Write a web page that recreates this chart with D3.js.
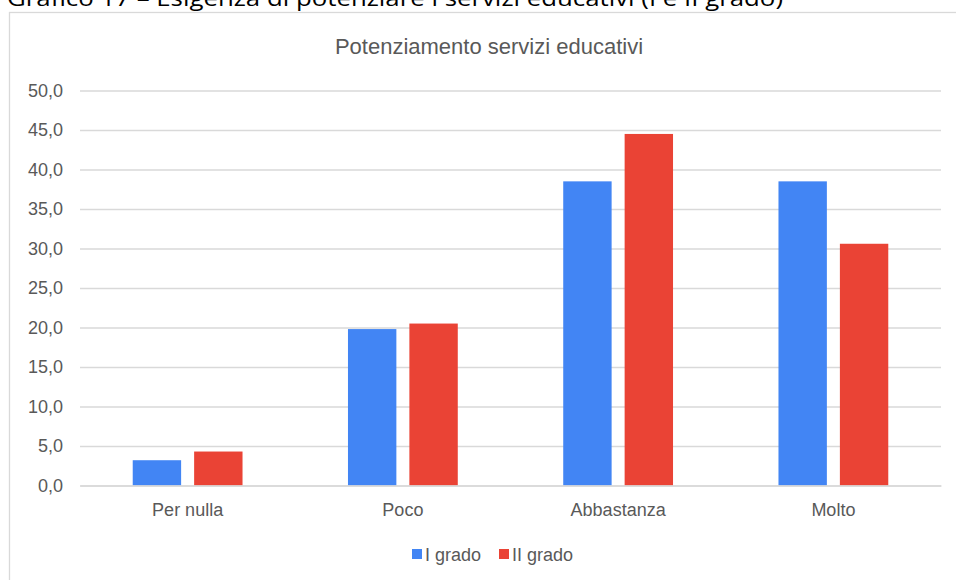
<!DOCTYPE html>
<html>
<head>
<meta charset="utf-8">
<script src="https://cdn.jsdelivr.net/npm/d3@7"></script>
<style>
  html, body { margin: 0; padding: 0; background: #fff; }
  svg { display: block; }
</style>
</head>
<body>
<svg id="chart" width="956" height="580"></svg>
<script>
const categories = ["Per nulla", "Poco", "Abbastanza", "Molto"];
const seriesNames = ["I grado", "II grado"];
const iGrado = [3.2, 19.8, 38.5, 38.5];
const iiGrado = [4.3, 20.5, 44.5, 30.6];
const yTicks = [0, 5, 10, 15, 20, 25, 30, 35, 40, 45, 50];
const colors = ["#4285f4", "#ea4335"];
const chartTitle = "Potenziamento servizi educativi";
const caption = "Grafico 17 – Esigenza di potenziare i servizi educativi (I e II grado)";

(function () {
const series = [iGrado, iiGrado];
const svg = d3.select("#chart");
const font = "'Liberation Sans', Arial, sans-serif";
const textColor = "#595959";

// caption above chart box (cut off at top, as in the source)
svg.append("text")
  .attr("x", 7).attr("y", 6)
  .attr("font-family", "'Open Sans', 'Noto Sans', sans-serif")
  .attr("font-size", 22)
  .attr("fill", "#000")
  .attr("textLength", 776)
  .attr("lengthAdjust", "spacingAndGlyphs")
  .text(caption);

// chart box
svg.append("rect")
  .attr("x", 9.5).attr("y", 12.5)
  .attr("width", 1000).attr("height", 700)
  .attr("fill", "#fff")
  .attr("stroke", "#d9d9d9")
  .attr("stroke-width", 1.3);

svg.append("text")
  .attr("x", 489).attr("y", 54)
  .attr("text-anchor", "middle")
  .attr("font-family", font)
  .attr("font-size", 22)
  .attr("fill", textColor)
  .text(chartTitle);

const pLeft = 80, pRight = 941, pTop = 90.5, pBottom = 485.5;
const y = d3.scaleLinear().domain([0, 50]).range([pBottom, pTop]);
const x0 = d3.scaleBand().domain(categories).range([pLeft, pRight]).padding(0);
const x1 = d3.scaleBand().domain(seriesNames).range([-54.9, 54.9]).paddingInner(0.212);

const locale = d3.formatLocale({decimal: ",", thousands: ".", grouping: [3], currency: ["€", ""]});
const fmt = locale.format(".1f");

// gridlines
const yAxis = d3.axisLeft(y).tickValues(yTicks).tickSize(-(pRight - pLeft)).tickPadding(17).tickFormat(fmt);
const gAxis = svg.append("g").attr("transform", `translate(${pLeft},0)`).call(yAxis);
gAxis.select(".domain").remove();
gAxis.selectAll(".tick line").attr("stroke", "#d9d9d9").attr("stroke-width", 1.3);
gAxis.selectAll(".tick text")
  .attr("font-family", font).attr("font-size", 18).attr("fill", textColor);

// bars
const groups = svg.append("g").selectAll("g")
  .data(categories)
  .join("g")
  .attr("transform", d => `translate(${x0(d) + x0.bandwidth() / 2},0)`);

groups.selectAll("rect")
  .data((d, i) => seriesNames.map((s, j) => ({s, v: series[j][i], c: colors[j]})))
  .join("rect")
  .attr("x", d => x1(d.s))
  .attr("width", x1.bandwidth())
  .attr("y", d => y(d.v))
  .attr("height", d => y(0) - y(d.v))
  .attr("fill", d => d.c);

// x axis baseline
const xAxis = d3.axisBottom(x0).tickSize(0).tickPadding(18);
const gx = svg.append("g").attr("transform", `translate(0,${pBottom})`).call(xAxis);
gx.select(".domain").attr("stroke", "#d9d9d9").attr("stroke-width", 1.3);
gx.selectAll(".tick text")
  .attr("font-family", font).attr("font-size", 18).attr("fill", textColor);

// legend
const legendItems = [
  {name: seriesNames[0], color: colors[0], x: 412},
  {name: seriesNames[1], color: colors[1], x: 499}
];
const lg = svg.append("g").selectAll("g").data(legendItems).join("g")
  .attr("transform", d => `translate(${d.x},0)`);
lg.append("rect").attr("x", 0).attr("y", 549).attr("width", 10).attr("height", 10).attr("fill", d => d.color);
lg.append("text").attr("x", 13).attr("y", 560.5)
  .attr("font-family", font).attr("font-size", 18).attr("fill", textColor)
  .text(d => d.name);
})();
</script>
</body>
</html>
